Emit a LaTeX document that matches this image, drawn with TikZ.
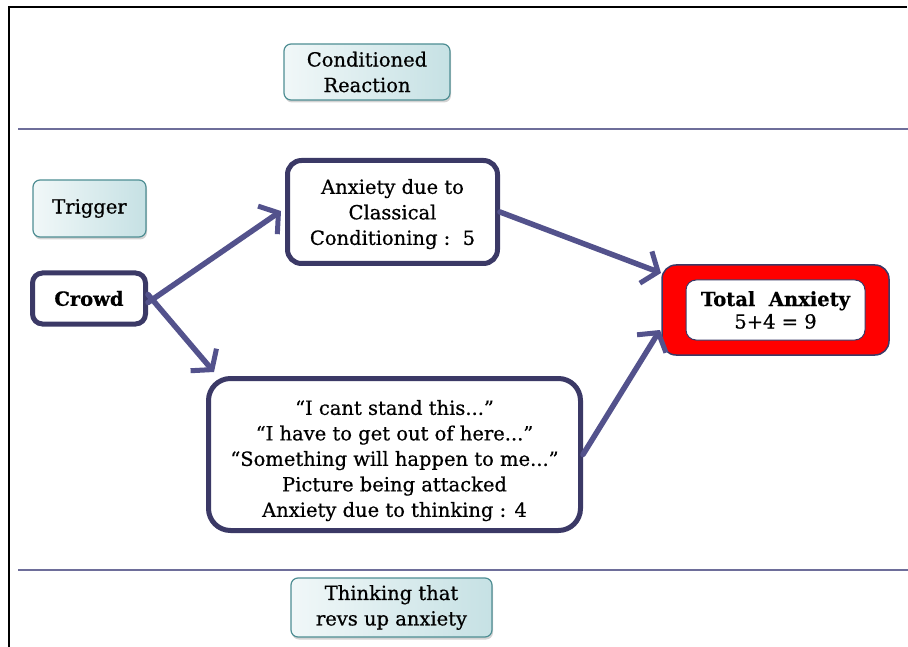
\documentclass[tikz,border=0pt]{standalone}
\usepackage{fontspec}
\setmainfont{DejaVu Serif}[FakeBold=0.6]
\usetikzlibrary{arrows.meta,shadows}
\definecolor{navy}{HTML}{3B3966}
\definecolor{arrowc}{HTML}{53528C}
\definecolor{tealb}{HTML}{4E8E93}
\definecolor{tealf}{HTML}{C6E1E4}
\definecolor{rulec}{HTML}{6E6E9A}
\begin{document}
\begin{tikzpicture}[x=1pt,y=-1pt,
  font=\fontsize{19.5}{25.5}\selectfont,
  tag/.style={draw=tealb, line width=1.2pt, rounded corners=7pt, left color=tealf!25, right color=tealf,
    align=center, inner sep=2pt, drop shadow={shadow xshift=1pt, shadow yshift=-2.5pt, opacity=0.35}},
  navybox/.style={draw=navy, line width=5pt, rounded corners=14pt, fill=white, align=center, inner sep=2pt},
  arr/.style={draw=arrowc, line width=5.5pt, line cap=round, -{Straight Barb[length=13pt,width=34pt,line width=5pt]}},
  rule/.style={draw=rulec, line width=1.5pt}]
\useasboundingbox (0,0) rectangle (908,647);
% frame and rules
\draw[line width=2pt] (9,647) -- (9,7) -- (907,7);
\draw[rule] (18,129) -- (908,129);
\draw[rule] (18,570) -- (908,570);
% labels
\node[tag, minimum width=166pt, minimum height=56pt] (cr) at (367,72) {Conditioned\\Reaction};
\node[tag, minimum width=113pt, minimum height=57pt] (trig) at (89.5,208.5) {Trigger};
\node[tag, minimum width=201pt, minimum height=59pt] (think) at (391.5,607.5) {Thinking that\\revs up anxiety};
% main boxes
\node[navybox, minimum width=113pt, minimum height=51pt, rounded corners=10pt] (crowd) at (89,298.5) {\bfseries Crowd};
\node[navybox, minimum width=210pt, minimum height=103pt] (cc) at (392.5,212) {\rule{0pt}{19pt}Anxiety due to\\Classical\\Conditioning :\ \ 5};
\node[navybox, minimum width=372pt, minimum height=152pt, rounded corners=22pt] (thinking) at (394.5,454.5)
  {\rule{0pt}{27pt}“I cant stand this...”\\“I have to get out of here...”\\“Something will happen to me...”\\Picture being attacked\\Anxiety due to thinking : 4};
\node[draw=navy, line width=1.5pt, fill=red, rounded corners=14pt, minimum width=227pt, minimum height=90pt] (totalo) at (775.5,310) {};
\node[draw=navy, line width=1pt, fill=white, rounded corners=10pt, minimum width=179pt, minimum height=60pt, align=center, inner sep=1pt] (total) at (775.5,310)
  {\bfseries Total\ \ Anxiety\\[-3pt]5+4 = 9};
% arrow tips
\coordinate (t1) at (281,211);
\coordinate (t2) at (214,372);
\coordinate (t3) at (661,273);
\coordinate (t4) at (660,330);
\draw[arr] ([yshift=-4pt]crowd.east) -- (t1);
\draw[arr] ([yshift=4pt]crowd.east) -- (t2);
\draw[arr] (cc.east) -- (t3);
\draw[arr] (thinking.east) -- (t4);
\end{tikzpicture}
\end{document}
